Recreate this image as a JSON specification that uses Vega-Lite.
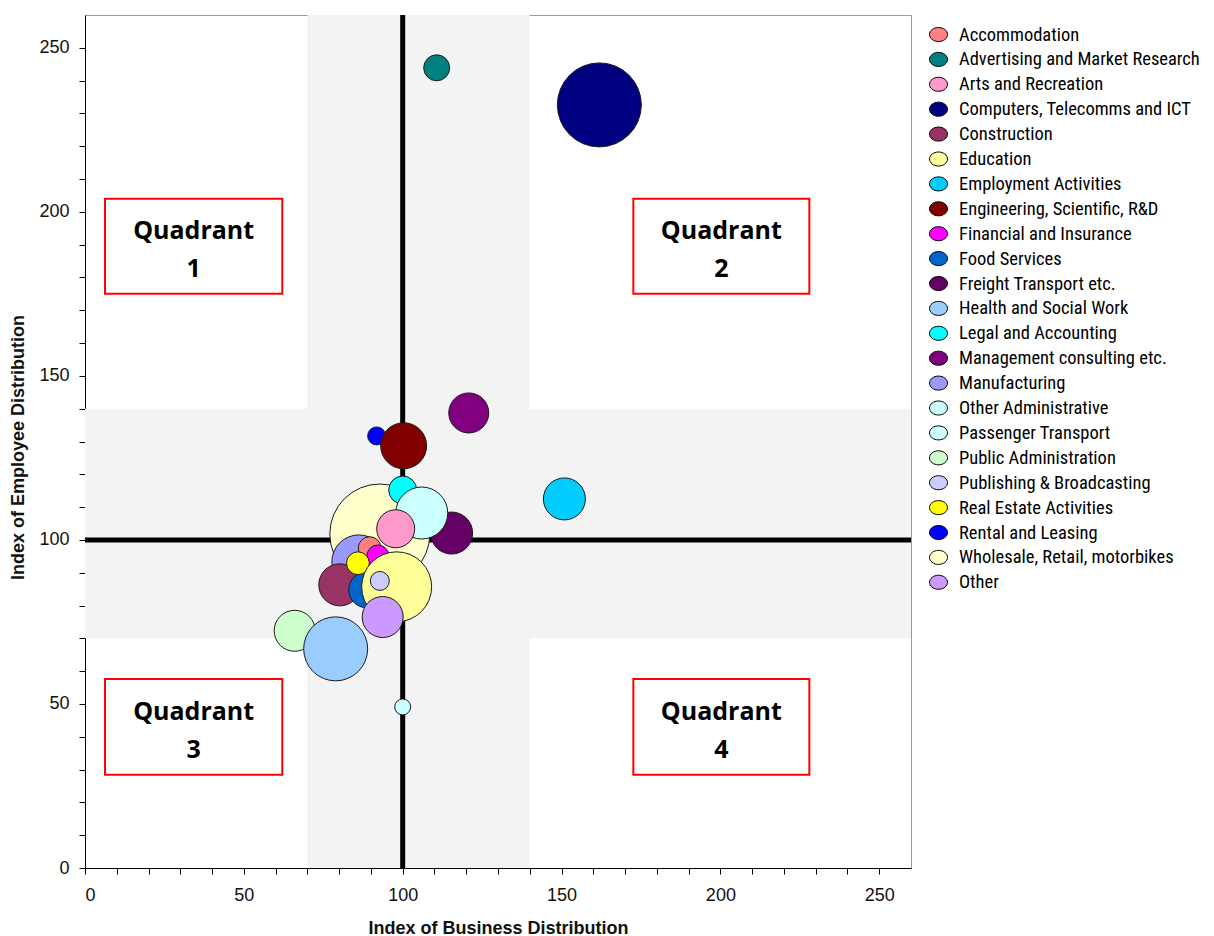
{
  "$schema": "https://vega.github.io/schema/vega-lite/v6.json",
  "width": 826,
  "height": 853,
  "autosize": {"type": "none"},
  "padding": {"left": 85, "top": 15, "right": 303, "bottom": 68},
  "background": "white",
  "datasets": {
    "bands": [
      {"x": 70, "x2": 140, "y": 0, "y2": 260},
      {"x": 0, "x2": 260, "y": 70, "y2": 140}
    ],
    "vline": [{"x": 100}],
    "hline": [{"y": 100}],
    "boxes": [
      {"x": 6.3, "x2": 62.1, "y": 175.0, "y2": 204.0, "cx": 34.2, "cy": 194.3, "label": "Quadrant\n1"},
      {"x": 172.6, "x2": 228.0, "y": 175.0, "y2": 204.0, "cx": 200.3, "cy": 194.3, "label": "Quadrant\n2"},
      {"x": 6.3, "x2": 62.1, "y": 28.4, "y2": 57.6, "cx": 34.2, "cy": 47.7, "label": "Quadrant\n3"},
      {"x": 172.6, "x2": 228.0, "y": 28.4, "y2": 57.6, "cx": 200.3, "cy": 47.7, "label": "Quadrant\n4"}
    ],
    "sectors": [
      {"sector": "Wholesale, Retail, motorbikes", "business": 92.8, "employee": 101.8, "weight": 2500},
      {"sector": "Freight Transport etc.", "business": 115.4, "employee": 102.1, "weight": 441},
      {"sector": "Legal and Accounting", "business": 100.0, "employee": 115.2, "weight": 196},
      {"sector": "Other Administrative", "business": 106.0, "employee": 108.2, "weight": 676},
      {"sector": "Arts and Recreation", "business": 97.8, "employee": 103.4, "weight": 361},
      {"sector": "Manufacturing", "business": 86.2, "employee": 93.3, "weight": 729},
      {"sector": "Accommodation", "business": 89.6, "employee": 97.5, "weight": 130},
      {"sector": "Financial and Insurance", "business": 92.2, "employee": 95.1, "weight": 121},
      {"sector": "Construction", "business": 80.2, "employee": 86.3, "weight": 441},
      {"sector": "Food Services", "business": 88.7, "employee": 84.8, "weight": 324},
      {"sector": "Real Estate Activities", "business": 85.9, "employee": 92.9, "weight": 130},
      {"sector": "Education", "business": 98.1, "employee": 85.7, "weight": 1225},
      {"sector": "Publishing & Broadcasting", "business": 92.8, "employee": 87.5, "weight": 90},
      {"sector": "Other", "business": 93.7, "employee": 76.5, "weight": 420},
      {"sector": "Public Administration", "business": 66.0, "employee": 72.3, "weight": 420},
      {"sector": "Health and Social Work", "business": 78.9, "employee": 66.8, "weight": 1024},
      {"sector": "Rental and Leasing", "business": 91.8, "employee": 131.7, "weight": 81},
      {"sector": "Engineering, Scientific, R&D", "business": 100.3, "employee": 128.7, "weight": 529},
      {"sector": "Management consulting etc.", "business": 120.8, "employee": 138.7, "weight": 400},
      {"sector": "Employment Activities", "business": 150.9, "employee": 112.5, "weight": 441},
      {"sector": "Advertising and Market Research", "business": 110.7, "employee": 243.9, "weight": 169},
      {"sector": "Computers, Telecomms and ICT", "business": 161.9, "employee": 232.6, "weight": 1764},
      {"sector": "Passenger Transport", "business": 100.0, "employee": 49.1, "weight": 64}
    ]
  },
  "layer": [
    {
      "data": {"name": "bands"},
      "mark": {"type": "rect", "color": "#f3f3f3"},
      "encoding": {
        "x": {"field": "x", "type": "quantitative", "scale": {"domain": [0, 260], "nice": false, "zero": true},
          "title": "Index of Business Distribution",
          "axis": {"values": [0,10,20,30,40,50,60,70,80,90,100,110,120,130,140,150,160,170,180,190,200,210,220,230,240,250],
            "labelExpr": "datum.value % 50 === 0 ? datum.label : ''"}},
        "x2": {"field": "x2"},
        "y": {"field": "y", "type": "quantitative", "scale": {"domain": [0, 260], "nice": false, "zero": true},
          "title": "Index of Employee Distribution",
          "axis": {"values": [0,10,20,30,40,50,60,70,80,90,100,110,120,130,140,150,160,170,180,190,200,210,220,230,240,250],
            "labelExpr": "datum.value % 50 === 0 ? datum.label : ''"}},
        "y2": {"field": "y2"}
      }
    },
    {
      "data": {"name": "vline"},
      "mark": {"type": "rule", "color": "black", "strokeWidth": 5},
      "encoding": {
        "x": {"field": "x", "type": "quantitative", "scale": {"domain": [0, 260], "nice": false, "zero": true},
          "title": "Index of Business Distribution",
          "axis": {"values": [0,10,20,30,40,50,60,70,80,90,100,110,120,130,140,150,160,170,180,190,200,210,220,230,240,250],
            "labelExpr": "datum.value % 50 === 0 ? datum.label : ''"}}
      }
    },
    {
      "data": {"name": "hline"},
      "mark": {"type": "rule", "color": "black", "strokeWidth": 5},
      "encoding": {
        "y": {"field": "y", "type": "quantitative", "scale": {"domain": [0, 260], "nice": false, "zero": true},
          "title": "Index of Employee Distribution",
          "axis": {"values": [0,10,20,30,40,50,60,70,80,90,100,110,120,130,140,150,160,170,180,190,200,210,220,230,240,250],
            "labelExpr": "datum.value % 50 === 0 ? datum.label : ''"}}
      }
    },
    {
      "data": {"name": "boxes"},
      "mark": {"type": "rect", "fill": "white", "stroke": "#ff0000", "strokeWidth": 2},
      "encoding": {
        "x": {"field": "x", "type": "quantitative", "scale": {"domain": [0, 260], "nice": false, "zero": true},
          "title": "Index of Business Distribution",
          "axis": {"values": [0,10,20,30,40,50,60,70,80,90,100,110,120,130,140,150,160,170,180,190,200,210,220,230,240,250],
            "labelExpr": "datum.value % 50 === 0 ? datum.label : ''"}},
        "x2": {"field": "x2"},
        "y": {"field": "y", "type": "quantitative", "scale": {"domain": [0, 260], "nice": false, "zero": true},
          "title": "Index of Employee Distribution",
          "axis": {"values": [0,10,20,30,40,50,60,70,80,90,100,110,120,130,140,150,160,170,180,190,200,210,220,230,240,250],
            "labelExpr": "datum.value % 50 === 0 ? datum.label : ''"}},
        "y2": {"field": "y2"}
      }
    },
    {
      "data": {"name": "boxes"},
      "mark": {"type": "text", "font": "Open Sans", "fontWeight": "bold", "fontSize": 25, "lineHeight": 38, "lineBreak": "\n", "align": "center", "baseline": "middle", "color": "black"},
      "encoding": {
        "x": {"field": "cx", "type": "quantitative", "scale": {"domain": [0, 260], "nice": false, "zero": true},
          "title": "Index of Business Distribution",
          "axis": {"values": [0,10,20,30,40,50,60,70,80,90,100,110,120,130,140,150,160,170,180,190,200,210,220,230,240,250],
            "labelExpr": "datum.value % 50 === 0 ? datum.label : ''"}},
        "y": {"field": "cy", "type": "quantitative", "scale": {"domain": [0, 260], "nice": false, "zero": true},
          "title": "Index of Employee Distribution",
          "axis": {"values": [0,10,20,30,40,50,60,70,80,90,100,110,120,130,140,150,160,170,180,190,200,210,220,230,240,250],
            "labelExpr": "datum.value % 50 === 0 ? datum.label : ''"}},
        "text": {"field": "label"}
      }
    },
    {
      "data": {"name": "sectors"},
      "mark": {"type": "circle", "opacity": 1, "stroke": "#1a1a1a", "strokeWidth": 1},
      "encoding": {
        "x": {"field": "business", "type": "quantitative", "scale": {"domain": [0, 260], "nice": false, "zero": true},
          "title": "Index of Business Distribution",
          "axis": {"values": [0,10,20,30,40,50,60,70,80,90,100,110,120,130,140,150,160,170,180,190,200,210,220,230,240,250],
            "labelExpr": "datum.value % 50 === 0 ? datum.label : ''"}},
        "y": {"field": "employee", "type": "quantitative", "scale": {"domain": [0, 260], "nice": false, "zero": true},
          "title": "Index of Employee Distribution",
          "axis": {"values": [0,10,20,30,40,50,60,70,80,90,100,110,120,130,140,150,160,170,180,190,200,210,220,230,240,250],
            "labelExpr": "datum.value % 50 === 0 ? datum.label : ''"}},
        "size": {"field": "weight", "type": "quantitative", "scale": {"type": "linear", "domain": [0, 2500], "range": [0, 10000], "zero": true}, "legend": null},
        "fill": {"field": "sector", "type": "nominal",
          "scale": {
            "domain": ["Accommodation", "Advertising and Market Research", "Arts and Recreation", "Computers, Telecomms and ICT", "Construction", "Education", "Employment Activities", "Engineering, Scientific, R&D", "Financial and Insurance", "Food Services", "Freight Transport etc.", "Health and Social Work", "Legal and Accounting", "Management consulting etc.", "Manufacturing", "Other Administrative", "Passenger Transport", "Public Administration", "Publishing & Broadcasting", "Real Estate Activities", "Rental and Leasing", "Wholesale, Retail, motorbikes", "Other"],
            "range": ["#ff8080", "#008080", "#ff99cc", "#000080", "#993366", "#ffff99", "#00ccff", "#800000", "#ff00ff", "#0066cc", "#660066", "#99ccff", "#00ffff", "#800080", "#9999ff", "#ccffff", "#ccffff", "#ccffcc", "#ccccff", "#ffff00", "#0000ff", "#ffffcc", "#cc99ff"]
          },
          "legend": {
            "title": null,
            "orient": "none",
            "legendX": 844,
            "legendY": 10,
            "padding": 0,
            "symbolType": "M-1,0A1,0.78 0 1,1 1,0A1,0.78 0 1,1 -1,0Z",
            "symbolSize": 324,
            "symbolStrokeColor": "black",
            "symbolStrokeWidth": 1,
            "symbolOpacity": 1,
            "labelFont": "Liberation Sans Narrow, Roboto Condensed, DejaVu Sans Condensed, sans-serif",
            "labelFontSize": 18.5,
            "labelColor": "black",
            "labelOffset": 11,
            "labelLimit": 400,
            "rowPadding": 5.9
          }
        }
      }
    }
  ],
  "config": {
    "view": {"stroke": "#9a9a9a", "strokeWidth": 1},
    "axis": {
      "grid": false,
      "labelOverlap": false,
      "domainColor": "black",
      "domainWidth": 1,
      "tickColor": "black",
      "tickSize": 6,
      "tickWidth": 1,
      "labelFont": "Liberation Sans",
      "labelFontSize": 18,
      "labelColor": "#111",
      "titleFont": "Liberation Sans Narrow, Liberation Sans",
      "titleFontSize": 18,
      "titleFontWeight": "bold",
      "titleColor": "#111"
    },
    "axisX": {"labelPadding": 12, "titleY": 60, "titleBaseline": "middle"},
    "axisY": {"labelPadding": 10, "titleX": -67, "titleBaseline": "middle", "titleY": 432}
  }
}
